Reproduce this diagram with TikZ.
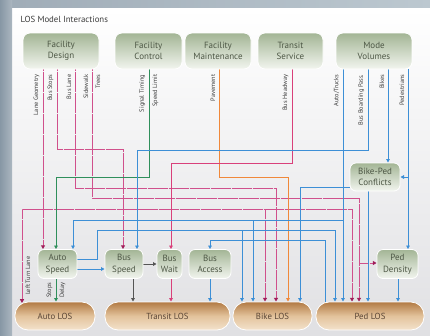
\documentclass[tikz,border=0pt]{standalone}
\usepackage{fontspec}
\setmainfont{PT Sans}
\usepackage{tikz}
\usetikzlibrary{shapes}
\usetikzlibrary{backgrounds}
\usetikzlibrary{arrows.meta,calc}

\definecolor{bandleft}{HTML}{8797A5}
\definecolor{bandtop}{HTML}{BCC8D0}
\definecolor{panelbot}{HTML}{E0E0E3}
\definecolor{greentop}{HTML}{A3B595}
\definecolor{greenbot}{HTML}{F2F5EF}
\definecolor{browntop}{HTML}{B27A44}
\definecolor{brownmid}{HTML}{E3C39C}
\definecolor{brownbot}{HTML}{F3E2CC}
\definecolor{boxtext}{HTML}{4D5745}
\definecolor{lostext}{HTML}{5A4636}
\definecolor{lbltext}{HTML}{3C3C3C}
\definecolor{pinkline}{HTML}{D9407A}
\definecolor{pinkdotc}{HTML}{D0508C}
\definecolor{pinktip}{HTML}{A01E5A}
\definecolor{blueline}{HTML}{3D8FD6}
\definecolor{greenline}{HTML}{2F8F5B}
\definecolor{orangeline}{HTML}{F0883A}
\definecolor{grayline}{HTML}{555555}

\tikzset{
  topbox/.style={rounded corners=7pt, draw=white, line width=0.8pt,
    top color=greentop, bottom color=greenbot, minimum height=36pt,
    align=center, inner sep=1pt, text=boxtext,
    font=\fontsize{9}{11.5}\selectfont},
  midbox/.style={topbox, minimum height=29pt, rounded corners=6pt},
  losbox/.style={rounded corners=13pt, draw=white, line width=0.8pt,
    top color=browntop, bottom color=brownbot, middle color=brownmid,
    minimum height=28pt, inner sep=1pt, text=lostext,
    font=\fontsize{8.8}{10}\selectfont},
  lbl/.style={rotate=90, inner sep=0.5pt, text=lbltext,
    font=\fontsize{6.3}{7}\selectfont},
  wire/.style={line width=0.9pt},
  pinkdot/.style={wire, draw=pinkdotc, line width=1pt, dash pattern=on 0.55pt off 0.5pt},
  pinkwire/.style={wire, draw=pinkline},
  bluewire/.style={wire, draw=blueline},
  greenwire/.style={wire, draw=greenline},
  orangewire/.style={wire, draw=orangeline},
  graywire/.style={wire, draw=grayline},
  tip/.style={-{Triangle[length=3.6pt,width=3.6pt]}},
  dottip/.style={-{Triangle[length=3.8pt,width=4pt,color=pinktip]}}
}

\begin{document}
\begin{tikzpicture}[x=1pt,y=-1pt]
\useasboundingbox (0,0) rectangle (430,335);

% sources
\node[topbox, minimum width=76pt] (fd) at (61,51) {Facility\\Design};
\node[topbox, minimum width=67pt] (fc) at (148.5,51) {Facility\\Control};
\node[topbox, minimum width=66pt] (fm) at (218,51) {Facility\\Maintenance};
\node[topbox, minimum width=65pt] (ts) at (290.5,51) {Transit\\Service};
\node[topbox, minimum width=76pt] (mv) at (374,51) {Mode\\Volumes};

% intermediate measures
\node[midbox, minimum width=39pt] (as) at (57.5,264) {Auto\\Speed};
\node[midbox, minimum width=38pt] (bs) at (124,264) {Bus\\Speed};
\node[midbox, minimum width=25pt] (bw) at (169.5,264) {Bus\\Wait};
\node[midbox, minimum width=42pt] (ba) at (210,264) {Bus\\Access};
\node[midbox, minimum width=41pt] (pd) at (397.5,264) {Ped\\Density};
\node[midbox, minimum width=50pt, minimum height=28pt] (bpc) at (375,177) {Bike-Ped\\Conflicts};

% level of service
\node[losbox, minimum width=80pt] (alos) at (55,316) {Auto LOS};
\node[losbox, minimum width=125pt] (tlos) at (167.5,316) {Transit LOS};
\node[losbox, minimum width=79pt] (blos) at (272.5,316) {Bike LOS};
\node[losbox, minimum width=108pt] (plos) at (370,316) {Ped LOS};

\node[anchor=base west, text=lbltext, font=\fontsize{8.8}{10}\selectfont] (title) at (17,22) {LOS Model Interactions};

% factor labels
\node[lbl, anchor=south east] (lLG) at (40,74) {Lane Geometry};
\node[lbl, anchor=south east] (lBSt) at (54,74) {Bus Stops};
\node[lbl, anchor=south east] (lBL) at (72,74) {Bus Lane};
\node[lbl, anchor=south east] (lSW) at (89,74) {Sidewalk};
\node[lbl, anchor=north east] (lTR) at (95,74) {Trees};
\node[lbl, anchor=south east] (lST) at (146,74) {Signal Timing};
\node[lbl, anchor=north east] (lSL) at (152,74) {Speed Limit};
\node[lbl, anchor=south east] (lPV) at (216,74) {Pavement};
\node[lbl, anchor=south east] (lBH) at (289,74) {Bus Headway};
\node[lbl, anchor=south east] (lAT) at (340,74) {Auto/Trucks};
\node[lbl, anchor=south east] (lBB) at (365,74) {Bus Boarding Pass.};
\node[lbl, anchor=south east] (lBK) at (385,74) {Bikes};
\node[lbl, anchor=south east] (lPD) at (405,74) {Pedestrians};
\node[lbl, anchor=north east] (lLT) at (25,256) {Left Turn Lane};
\node[lbl, anchor=south east] (lSP) at (53,282) {Stops};
\node[lbl, anchor=north east] (lDL) at (59,282) {Delay};

\begin{scope}[on background layer]
\shade[left color=bandleft!80!white, right color=bandtop] (0,0) rectangle (430,8);
\shade[top color=white, bottom color=panelbot] (12,8) rectangle (430,335);
\shade[left color=bandleft, right color=bandleft!70!white] (0,0) rectangle (12,335);

% facility design
\draw[pinkdot,dottip] (fd.south -| 43,0) -- (as.north -| 43,0);
\draw[pinkdot] (43,209) -- (352,209);
\draw[pinkdot,dottip] (43,209) -| (22,303);
\draw[pinkdot,dottip] (265,209) -- (blos.north -| 265,0);
\draw[pinkdot,dottip] (352,209) -- (plos.north -| 352,0);
\draw[pinkdot,dottip] (fd.south -| 57,0) |- (123,149) -- (bs.north -| 123,0);
\draw[pinkdot,dottip] (fd.south -| 75,0) |- (276,188) -- (blos.north -| 276,0);
\draw[pinkdot,dottip] (fd.south -| 92,0) |- (359,198) -- (plos.north -| 359,0);
\draw[pinkdot,dottip] (359,263) -- (pd.west |- 0,263);

% facility control, maintenance, transit service
\draw[greenwire,tip] (fc.south -| 149,0) |- (56,177) -- (as.north -| 56,0);
\draw[orangewire,tip] (fm.south -| 219,0) |- (288,177) -- (blos.north -| 288,0);
\draw[pinkwire,tip] (ts.south -| 292,0) |- (171,163) -- (bw.north -| 171,0);

% mode volumes
\draw[bluewire,tip] (mv.south -| 343,0) -- (plos.north -| 343,0);
\draw[bluewire,tip] (343,220) -| (as.north -| 73,0);
\draw[bluewire,tip] (253,220) -- (blos.north -| 253,0);
\draw[bluewire,tip] (mv.south -| 368,0) |- (137,150) -- (bs.north -| 137,0);
\draw[bluewire,tip] (mv.south -| 388,0) -- (bpc.north -| 388,0);
\draw[bluewire,tip] (mv.south -| 408,0) -- (pd.north -| 408,0);
\draw[bluewire,tip] (408,177) -- (bpc.east);

% intermediate links
\draw[bluewire] (as.east |- 0,259) -| (97,230) -- (335,230);
\draw[bluewire,tip] (335,230) -- (plos.north -| 335,0);
\draw[bluewire,tip] (242,230) -- (blos.north -| 242,0);
\draw[bluewire,tip] (as.east |- 0,269) -- (bs.west |- 0,269);
\draw[bluewire,tip] (bpc.west |- 0,187) -| (blos.north -| 300,0);
\draw[bluewire,tip] (bpc.south -| 368,0) -- (plos.north -| 368,0);
\draw[bluewire,tip] (pd.south -| 398,0) -- (plos.north -| 398,0);
\draw[bluewire,tip] (plos.north -| 325,0) |- (210,240) -- (ba.north);
\draw[bluewire,tip] (ba.south) -- (tlos.north -| ba.south);
\draw[greenwire,tip] (as.south -| 56,0) -- (alos.north -| 56,0);
\draw[graywire,tip] (bs.south -| 133,0) -- (tlos.north -| 133,0);
\draw[graywire,tip] (bs.east |- 0,264) -- (bw.west |- 0,264);
\draw[pinkwire,tip] (bw.south -| 171,0) -- (tlos.north -| 171,0);
\end{scope}
\end{tikzpicture}
\end{document}
